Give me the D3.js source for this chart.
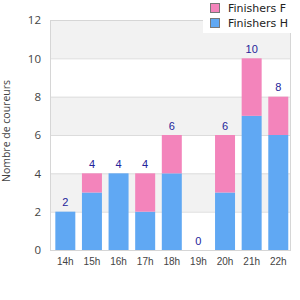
<!DOCTYPE html>
<html>
<head>
<meta charset="utf-8">
<script src="https://cdn.jsdelivr.net/npm/d3@7"></script>
<style>
  body { margin: 0; background: #fff; }
  svg { display: block; font-family: "DejaVu Sans", sans-serif; }
</style>
</head>
<body>
<svg id="chart" width="300" height="300"></svg>
<script>
const heures = ["14h", "15h", "16h", "17h", "18h", "19h", "20h", "21h", "22h"];
const finishersH = [2, 3, 4, 2, 4, 0, 3, 7, 6];
const finishersF = [0, 1, 0, 2, 2, 0, 3, 3, 2];
const yTicks = [0, 2, 4, 6, 8, 10, 12];

const svg = d3.select("#chart");
const plotL = 50, plotR = 290, plotT = 20, plotB = 250;

const x = d3.scaleBand().domain(heures).range([52, 291.6]).paddingInner(0.249).paddingOuter(0.125);
const y = d3.scaleLinear().domain([0, 12]).range([plotB, plotT]);

// bandes alternees
for (let i = 0; i < yTicks.length - 1; i++) {
    svg.append('rect')
        .attr('x', plotL).attr('y', y(yTicks[i + 1]))
        .attr('width', plotR - plotL).attr('height', y(yTicks[i]) - y(yTicks[i + 1]))
        .attr('fill', i % 2 === 1 ? '#f2f2f2' : '#ffffff');
}
svg.selectAll('.grid').data(yTicks).enter()
    .append('line')
    .attr('x1', plotL).attr('x2', plotR)
    .attr('y1', d => y(d) + 0.5).attr('y2', d => y(d) + 0.5)
    .attr('stroke', '#dcdcdc');

const stack = heures.map((h, i) => ({ h, H: finishersH[i], F: finishersF[i] }));

svg.selectAll('.barH').data(stack).enter()
    .append('rect')
    .attr('x', d => x(d.h)).attr('width', x.bandwidth())
    .attr('y', d => y(d.H)).attr('height', d => y(0) - y(d.H))
    .attr('fill', '#60a8f3');

svg.selectAll('.barF').data(stack).enter()
    .append('rect')
    .attr('x', d => x(d.h)).attr('width', x.bandwidth())
    .attr('y', d => y(d.H + d.F)).attr('height', d => y(d.H) - y(d.H + d.F))
    .attr('fill', '#f384bb');

// cadre
svg.append('rect')
    .attr('x', plotL + 0.5).attr('y', plotT + 0.5)
    .attr('width', plotR - plotL).attr('height', plotB - plotT)
    .attr('fill', 'none').attr('stroke', '#d6d6d6');

// totaux
svg.selectAll('.total').data(stack).enter()
    .append('text')
    .attr('x', d => x(d.h) + x.bandwidth() / 2)
    .attr('y', d => y(d.H + d.F) - 5.5)
    .attr('text-anchor', 'middle')
    .attr('font-family', '"Liberation Sans", Arial, sans-serif')
    .attr('font-size', 11)
    .attr('fill', '#24249a')
    .text(d => d.H + d.F);

// axe y
const yAxis = svg.append('g').attr('transform', `translate(${plotL},0)`)
    .call(d3.axisLeft(y).tickValues(yTicks).tickSize(0).tickPadding(9));
yAxis.select('.domain').remove();
yAxis.selectAll('text').attr('font-size', 11.5).attr('fill', '#444').attr('font-family', '"Open Sans", sans-serif');

// axe x
const xAxis = svg.append('g').attr('transform', `translate(0,${plotB})`)
    .call(d3.axisBottom(x).tickSize(0).tickPadding(8));
xAxis.select('.domain').remove();
xAxis.selectAll('text').attr('font-size', 10).attr('fill', '#444').attr('font-family', '"Liberation Sans", Arial, sans-serif');

svg.append('text')
    .attr('transform', 'translate(10,131) rotate(-90)')
    .attr('text-anchor', 'middle')
    .attr('font-family', '"Open Sans", sans-serif')
    .attr('font-size', 10.5)
    .attr('fill', '#444')
    .text('Nombre de coureurs');

// legende
const legendItems = [{ label: 'Finishers F', color: '#f384bb' }, { label: 'Finishers H', color: '#60a8f3' }];
svg.append('rect').attr('x', 203).attr('y', 0).attr('width', 88).attr('height', 33).attr('fill', '#fff');
const lg = svg.selectAll('.legend').data(legendItems).enter()
    .append('g').attr('transform', (d, i) => `translate(210,${3 + i * 15})`);
lg.append('rect').attr('x', 0.5).attr('y', 0.5).attr('width', 9).attr('height', 9)
    .attr('fill', d => d.color).attr('stroke', '#777');
lg.append('text').attr('x', 18).attr('y', 9).attr('font-size', 11).attr('fill', '#222')
    .text(d => d.label);
</script>
</body>
</html>
